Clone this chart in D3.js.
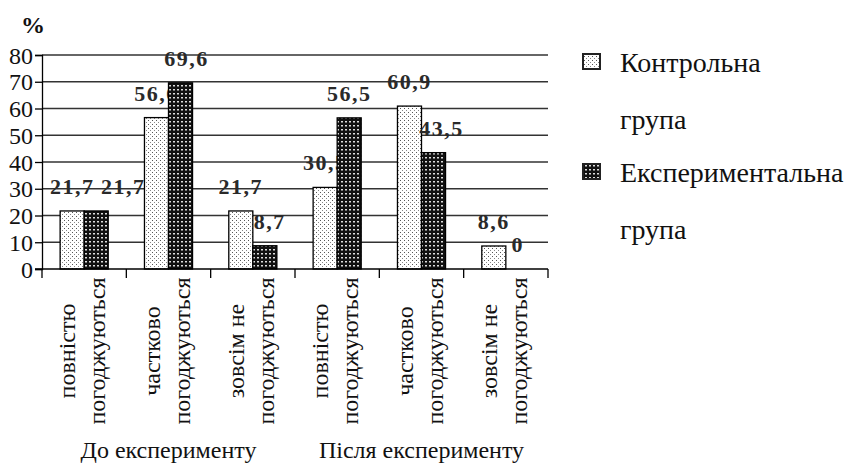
<!DOCTYPE html>
<html>
<head>
<meta charset="utf-8">
<script src="https://cdn.jsdelivr.net/npm/d3@7"></script>
<style>
  html, body { margin: 0; padding: 0; background: #fff; }
</style>
</head>
<body>
<div id="chart"></div>
<script>
// categories: two text lines each (rotated under the axis)
var categories = [
    ['повністю', 'погоджуються'],
    ['частково', 'погоджуються'],
    ['зовсім не', 'погоджуються'],
    ['повністю', 'погоджуються'],
    ['частково', 'погоджуються'],
    ['зовсім не', 'погоджуються']
];
var groups = ['До експерименту', 'Після експерименту'];
var seriesNames = [['Контрольна', 'група'], ['Експериментальна', 'група']];
var controlValues = [21.7, 56.6, 21.7, 30.5, 60.9, 8.6];
var experimentValues = [21.7, 69.6, 8.7, 56.5, 43.5, 0];
var valueLabels = [
    ['21,7', '56,6', '21,7', '30,5', '60,9', '8,6'],
    ['21,7', '69,6', '8,7', '56,5', '43,5', '0']
];
var yTicks = [0, 10, 20, 30, 40, 50, 60, 70, 80];

var width = 844, height = 464;
var plotLeft = 42, plotRight = 548, plotTop = 55, plotBottom = 269;
var serif = '"Liberation Serif", "Times New Roman", serif';

var svg = d3.select('#chart').append('svg')
    .attr('width', width)
    .attr('height', height);

var defs = svg.append('defs');

// light stipple for the control group
var p1 = defs.append('pattern')
    .attr('id', 'dots')
    .attr('patternUnits', 'userSpaceOnUse')
    .attr('width', 4).attr('height', 4);
p1.append('rect').attr('width', 4).attr('height', 4).attr('fill', '#fff');
p1.append('rect').attr('x', 0).attr('y', 0).attr('width', 1).attr('height', 1).attr('fill', '#555');
p1.append('rect').attr('x', 2).attr('y', 2).attr('width', 1).attr('height', 1).attr('fill', '#888');

// dark checker for the experimental group
var p2 = defs.append('pattern')
    .attr('id', 'checks')
    .attr('patternUnits', 'userSpaceOnUse')
    .attr('width', 4).attr('height', 4);
p2.append('rect').attr('width', 4).attr('height', 4).attr('fill', '#111');
p2.append('rect').attr('x', 1).attr('y', 1).attr('width', 2).attr('height', 1.5).attr('fill', '#ddd');

var fills = ['url(#dots)', 'url(#checks)'];

var x = d3.scaleBand()
    .domain(d3.range(categories.length))
    .range([plotLeft, plotRight]);

var bw = x.bandwidth();
var xSub = d3.scaleBand()
    .domain([0, 1])
    .range([bw * 0.215, bw * 0.785]);

var y = d3.scaleLinear()
    .domain([0, 80])
    .range([plotBottom, plotTop]);

// Grid lines
svg.append('g').selectAll('line')
    .data(yTicks.slice(1))
    .enter().append('line')
    .attr('x1', plotLeft)
    .attr('x2', plotRight)
    .attr('y1', function(d) { return y(d); })
    .attr('y2', function(d) { return y(d); })
    .attr('stroke', '#333')
    .attr('stroke-width', 1.3);

// Y axis
var yAxis = svg.append('g')
    .attr('transform', 'translate(' + plotLeft + ',0)')
    .call(d3.axisLeft(y).tickValues(yTicks).tickSize(7).tickPadding(2));
yAxis.select('.domain').attr('stroke', '#000').attr('stroke-width', 1.3);
yAxis.selectAll('.tick line').attr('stroke', '#000').attr('stroke-width', 1.3);
yAxis.selectAll('.tick text')
    .attr('fill', '#111')
    .attr('dy', '0.34em')
    .style('font-family', serif)
    .style('font-size', '24px');

svg.append('text')
    .attr('x', 21)
    .attr('y', 33)
    .attr('font-weight', 'bold')
    .attr('fill', '#111')
    .style('font-family', serif)
    .style('font-size', '24px')
    .text('%');

// Bars and value labels, series by series (later bars cover earlier labels)
var series = [controlValues, experimentValues];
var labelNudge = [[0, 0, 0, 0, 0, 0], [27, 6, 5, 0, 8, 0]];

series.forEach(function(values, s) {
    var g = svg.append('g');
    g.selectAll('rect')
        .data(values)
        .enter().append('rect')
        .attr('x', function(d, i) { return x(i) + xSub(s); })
        .attr('y', function(d) { return y(d); })
        .attr('width', xSub.bandwidth())
        .attr('height', function(d) { return y(0) - y(d); })
        .attr('fill', fills[s])
        .attr('stroke', '#000')
        .attr('stroke-width', 1.3);
    g.selectAll('text')
        .data(values)
        .enter().append('text')
        .attr('x', function(d, i) { return x(i) + xSub(s) + xSub.bandwidth() / 2 + labelNudge[s][i]; })
        .attr('y', function(d) { return y(d) - 17; })
        .attr('text-anchor', 'middle')
        .attr('font-weight', 'bold')
        .attr('letter-spacing', 1.5)
        .attr('fill', '#2a2a2a')
        .style('font-family', serif)
        .style('font-size', '22px')
        .text(function(d, i) { return valueLabels[s][i]; });
});

// X axis
var xAxis = svg.append('g');
xAxis.append('line')
    .attr('x1', plotLeft - 7).attr('x2', plotRight)
    .attr('y1', plotBottom).attr('y2', plotBottom)
    .attr('stroke', '#000').attr('stroke-width', 1.3);
xAxis.selectAll('line.tk')
    .data(d3.range(categories.length + 1))
    .enter().append('line')
    .attr('class', 'tk')
    .attr('x1', function(d) { return plotLeft + d * bw; })
    .attr('x2', function(d) { return plotLeft + d * bw; })
    .attr('y1', plotBottom)
    .attr('y2', plotBottom + 9)
    .attr('stroke', '#000')
    .attr('stroke-width', 1.3);

// Rotated category labels
categories.forEach(function(lines, i) {
    var cx = x(i) + bw / 2;
    lines.forEach(function(line, k) {
        svg.append('text')
            .attr('transform', 'translate(' + (cx - 9 + k * 30) + ',351) rotate(-90)')
            .attr('text-anchor', 'middle')
            .attr('fill', '#111')
            .style('font-family', serif)
            .style('font-size', '24px')
            .text(line);
    });
});

// Group labels
groups.forEach(function(name, gi) {
    var gx = plotLeft + (gi * 3 + 1.5) * bw;
    svg.append('text')
        .attr('x', gx)
        .attr('y', 458)
        .attr('text-anchor', 'middle')
        .attr('fill', '#111')
        .style('font-family', serif)
        .style('font-size', '24px')
        .text(name);
});

// Legend
seriesNames.forEach(function(lines, s) {
    var ly = 72 + s * 110;
    svg.append('rect')
        .attr('x', 583)
        .attr('y', ly - 18)
        .attr('width', 17)
        .attr('height', 15)
        .attr('fill', fills[s])
        .attr('stroke', '#222')
        .attr('stroke-width', 2);
    lines.forEach(function(line, k) {
        svg.append('text')
            .attr('x', 620)
            .attr('y', ly + k * 57)
            .attr('fill', '#111')
            .style('font-family', serif)
            .style('font-size', '28px')
            .text(line);
    });
});
</script>
</body>
</html>
